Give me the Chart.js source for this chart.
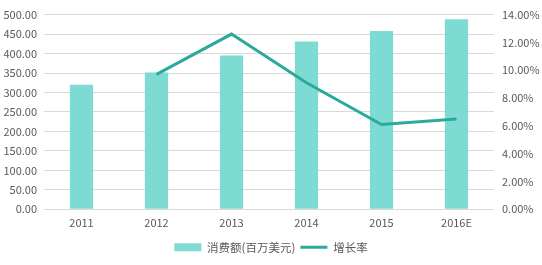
<!DOCTYPE html>
<html>
<head>
<meta charset="utf-8">
<script src="https://cdn.jsdelivr.net/npm/chart.js@4"></script>
<style>
  html, body { margin: 0; padding: 0; background: #fff; }
  #wrap { width: 542px; height: 265px; }
</style>
</head>
<body>
<div id="wrap"><canvas id="chart"></canvas></div>
<script>
const years = ['2011', '2012', '2013', '2014', '2015', '2016E'];
const sales = [320, 351, 395, 431, 458, 488];
const growth = [null, 9.7, 12.6, 9.1, 6.1, 6.5];
const salesTicks = [0, 50, 100, 150, 200, 250, 300, 350, 400, 450, 500];
const growthTicks = [0, 2, 4, 6, 8, 10, 12, 14];

const barColor = '#7ddbd3';
const lineColor = '#2aaa9b';
const textColor = '#595959';

Chart.defaults.font.family = "'Noto Sans CJK SC', 'Noto Sans', sans-serif";
Chart.defaults.font.size = 11;
Chart.defaults.color = textColor;

const ctx = document.getElementById('chart').getContext('2d');
new Chart(ctx, {
    data: {
        labels: years,
        datasets: [
            {
                type: 'line',
                label: '增长率',
                data: growth,
                borderColor: lineColor,
                backgroundColor: lineColor,
                borderWidth: 3,
                pointRadius: 0,
                pointStyle: 'line',
                tension: 0,
                yAxisID: 'y1',
                order: 0
            },
            {
                type: 'bar',
                label: '消费额(百万美元)',
                data: sales,
                backgroundColor: barColor,
                borderWidth: 0,
                pointStyle: 'rect',
                barPercentage: 0.31,
                categoryPercentage: 1,
                yAxisID: 'y',
                order: 1
            }
        ]
    },
    options: {
        responsive: true,
        maintainAspectRatio: false,
        animation: false,
        layout: { padding: { top: 11, bottom: 2 } },
        plugins: {
            tooltip: { enabled: false },
            legend: {
                position: 'bottom',
                reverse: true,
                labels: {
                    usePointStyle: true,
                    pointStyleWidth: 27,
                    boxWidth: 27,
                    boxHeight: 8,
                    padding: 5,
                    color: textColor,
                    font: { size: 11.5 }
                }
            }
        },
        scales: {
            x: {
                grid: { display: false, drawTicks: false },
                border: { display: false },
                ticks: { padding: 7 }
            },
            y: {
                position: 'left',
                min: 0,
                max: 500,
                afterBuildTicks: axis => { axis.ticks = salesTicks.map(v => ({ value: v })); },
                afterFit: axis => { axis.width = 44; },
                grid: { color: '#d9d9d9', drawTicks: false },
                border: { display: false },
                ticks: {
                    padding: 7,
                    callback: v => v.toFixed(2)
                }
            },
            y1: {
                position: 'right',
                min: 0,
                max: 14,
                afterBuildTicks: axis => { axis.ticks = growthTicks.map(v => ({ value: v })); },
                afterFit: axis => { axis.width = 48; },
                grid: { drawOnChartArea: false, drawTicks: false },
                border: { display: false },
                ticks: {
                    padding: 8,
                    callback: v => v.toFixed(2) + '%'
                }
            }
        }
    }
});
</script>
</body>
</html>
